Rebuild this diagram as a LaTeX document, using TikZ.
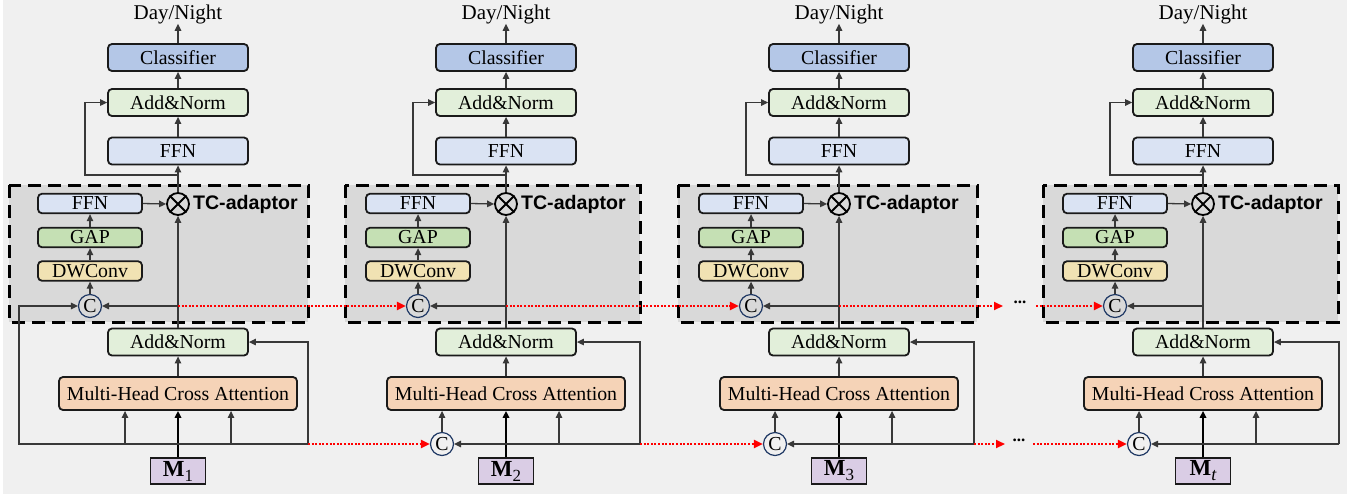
\documentclass[tikz,border=0pt]{standalone}
\usepackage{fontspec}
\setmainfont{Liberation Serif}
\newfontfamily\tcfont{Liberation Sans}
\usetikzlibrary{arrows.meta}
\definecolor{bgc}{HTML}{F0F0F0}
\definecolor{tcfill}{HTML}{D9D9D9}
\definecolor{clsc}{HTML}{B4C7E7}
\definecolor{anc}{HTML}{E2EFDA}
\definecolor{ffnc}{HTML}{DAE3F3}
\definecolor{gapc}{HTML}{C5E0B4}
\definecolor{dwc}{HTML}{F1E2B3}
\definecolor{mhc}{HTML}{F5D3B7}
\definecolor{mc}{HTML}{DACDE5}
\definecolor{navy}{HTML}{1F3864}
\definecolor{linec}{HTML}{383838}
\definecolor{edgec}{HTML}{1A1A1A}

\tikzset{
  box/.style={draw=edgec, line width=1.8pt, rounded corners=4pt, inner sep=0pt,
    font=\fontsize{19.8}{20}\selectfont},
  bigbox/.style={box, minimum width=140pt, minimum height=27pt},
  smallbox/.style={box, minimum width=104pt, minimum height=19.5pt},
  mbox/.style={draw=edgec, line width=1.8pt, fill=mc, inner sep=0pt,
    minimum width=55pt, minimum height=26pt, font=\fontsize{23}{23}\selectfont},
  ccirc/.style={circle, draw=navy, line width=1.2pt, minimum size=23pt, inner sep=0pt,
    font=\fontsize{19.8}{20}\selectfont},
  otc/.style={circle, draw=black, line width=1.8pt, minimum size=22pt, inner sep=0pt},
  tcbox/.style={draw=black, fill=tcfill, line width=3pt, dash pattern=on 13pt off 7pt},
  tclabel/.style={font=\tcfont\bfseries\fontsize{19.6}{20}\selectfont, inner sep=0pt, anchor=west},
  dnlabel/.style={font=\fontsize{21}{22}\selectfont, inner sep=0pt},
  conn/.style={draw=linec, line width=1.3pt, -{Triangle[length=7pt,width=6.5pt]}},
  reddot/.style={draw=red, line width=2pt, dash pattern=on 2pt off 1.6pt,
    -{Triangle[length=9pt,width=8pt]}},
  dots/.style={font=\bfseries\fontsize{17}{18}\selectfont, inner sep=0pt}
}

% #1 id, #2 centre x, #3 right line x, #4 M label
\newcommand\tcblock[4]{%
  \node[dnlabel] (dn#1) at (#2,14) {Day/Night};
  \node[bigbox, fill=clsc] (cls#1) at (#2,57.5) {Classifier};
  \node[bigbox, fill=anc] (an#1) at (#2,102.5) {Add\&Norm};
  \node[bigbox, fill=ffnc] (ffn#1) at (#2,151) {FFN};
  \node[smallbox, fill=ffnc] (sffn#1) at ({#2-88},203.5) {FFN};
  \node[smallbox, fill=gapc] (gap#1) at ({#2-88},237.5) {GAP};
  \node[smallbox, fill=dwc] (dw#1) at ({#2-88},271) {DWConv};
  \node[ccirc] (ct#1) at ({#2-88},306) {C};
  \node[otc] (ot#1) at (#2,204) {};
  \draw[line width=1.8pt] (ot#1.north west) -- (ot#1.south east)
                          (ot#1.north east) -- (ot#1.south west);
  \node[tclabel] (tc#1) at ([xshift=3pt]ot#1.east) {TC-adaptor};
  \node[bigbox, fill=anc] (anb#1) at (#2,342) {Add\&Norm};
  \node[box, fill=mhc, minimum width=238pt, minimum height=33pt] (mh#1) at (#2,393.5) {Multi-Head Cross Attention};
  \node[mbox] (m#1) at (#2,471) {#4};
  \coordinate (j#1) at (#2,306);
  \coordinate (fb#1) at (#2,175);
  \coordinate (r#1) at (#3,444);
  \coordinate (ri#1) at ({#2+53},444);
  % connectors
  \draw[conn, line width=1.6pt, draw=black] (m#1.north) -- (mh#1.south);
  \draw[conn] (mh#1) -- (anb#1);
  \draw[conn] (anb#1) -- (ot#1);
  \draw[conn] (j#1) -- (ct#1.east);
  \draw[conn] (ct#1) -- (dw#1);
  \draw[conn] (dw#1) -- (gap#1);
  \draw[conn] (gap#1) -- (sffn#1);
  \draw[conn] (sffn#1.east) -- (ot#1.west);
  \draw[conn] (ot#1) -- (ffn#1);
  \draw[conn] (ffn#1) -- (an#1);
  \draw[conn] (an#1) -- (cls#1);
  \draw[conn] (cls#1) -- (dn#1);
  \draw[conn] (fb#1) -- ++(-93,0) |- (an#1.west);
  \draw[conn] (r#1) |- (anb#1.east);
  \draw[conn] (ri#1) -- (ri#1 |- mh#1.south);
}

\begin{document}
\begin{tikzpicture}[x=1pt,y=-1pt]
\useasboundingbox (0,0) rectangle (1364,499);
\fill[bgc] (3,0) rectangle (1347,494);

% TC-adaptor regions
\draw[tcbox] (9,185) rectangle (308,322);
\draw[tcbox] (345,185) rectangle (640,322);
\draw[tcbox] (678,185) rectangle (977,322);
\draw[tcbox] (1043,185) rectangle (1338,322);

\tcblock{1}{178}{308}{\textbf{M}\raisebox{-5pt}{\fontsize{17}{17}\selectfont 1}}
\tcblock{2}{506}{640}{\textbf{M}\raisebox{-5pt}{\fontsize{17}{17}\selectfont 2}}
\tcblock{3}{839}{974}{\textbf{M}\raisebox{-5pt}{\fontsize{17}{17}\selectfont 3}}
\tcblock{4}{1203}{1339}{\textbf{M}\raisebox{-5pt}{\fontsize{18}{18}\selectfont\itshape t}}

% block 1 bottom routing
\coordinate (l1) at (19,444);
\coordinate (li1) at (125,444);
\draw[conn] (r1) -- (l1) |- (ct1.west);
\draw[conn] (li1) -- (li1 |- mh1.south);

% blocks 2-4 bottom concat
\node[ccirc] (cb2) at (442,444) {C};
\node[ccirc] (cb3) at (775,444) {C};
\node[ccirc] (cb4) at (1139,444) {C};
\draw[conn] (r2) -- (cb2.east);
\draw[conn] (r3) -- (cb3.east);
\draw[conn] (r4) -- (cb4.east);
\draw[conn] (cb2) -- (cb2 |- mh2.south);
\draw[conn] (cb3) -- (cb3 |- mh3.south);
\draw[conn] (cb4) -- (cb4 |- mh4.south);

% red dotted temporal links
\draw[reddot] (j1) -- (ct2.west);
\draw[reddot] (r1) -- (cb2.west);
\draw[reddot] (j2) -- (ct3.west);
\draw[reddot] (r2) -- (cb3.west);

\coordinate (d1) at (1003,306);
\coordinate (d2) at (1036,306);
\coordinate (d3) at (1005,444);
\coordinate (d4) at (1033,444);
\draw[reddot] (j3) -- (d1);
\node[dots] (dots1) at (1020,302) {...};
\draw[reddot] (d2) -- (ct4.west);
\draw[reddot] (r3) -- (d3);
\node[dots] (dots2) at (1019,440) {...};
\draw[reddot] (d4) -- (cb4.west);
\end{tikzpicture}
\end{document}
